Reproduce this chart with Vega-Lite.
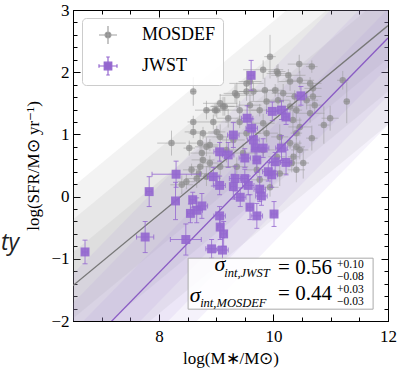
{
  "$schema": "https://vega.github.io/schema/vega-lite/v6.json",
  "width": 315,
  "height": 311,
  "autosize": {"type": "none"},
  "padding": {"left": 73, "top": 10, "right": 12, "bottom": 47},
  "background": "white",
  "config": {
    "view": {"stroke": "#000", "strokeWidth": 1},
    "axis": {"domain": false, "grid": false, "tickColor": "#000", "tickWidth": 1,
      "labelFont": "Liberation Serif", "labelFontSize": 17, "labelColor": "#000",
      "titleFont": "Liberation Serif", "titleFontSize": 17, "titleFontWeight": "normal", "titleColor": "#000",
      "labelOverlap": false, "labelFlush": false}
  },
  "resolve": {"axis": {"x": "independent", "y": "independent"}},
  "datasets": {
    "gbands": [
      {"b": "g3", "x": 6.5, "lo": -3.02, "hi": 0.16}, {"b": "g3", "x": 12, "lo": 1.16, "hi": 4.34},
      {"b": "g2", "x": 6.5, "lo": -2.49, "hi": -0.37}, {"b": "g2", "x": 12, "lo": 1.69, "hi": 3.81},
      {"b": "g1", "x": 6.5, "lo": -1.96, "hi": -0.90}, {"b": "g1", "x": 12, "lo": 2.22, "hi": 3.28}
    ],
    "pbands": [
      {"b": "p3", "x": 6.5, "lo": -4.04, "hi": -1.24}, {"b": "p3", "x": 12, "lo": 1.15, "hi": 3.95},
      {"b": "p2", "x": 6.5, "lo": -3.57, "hi": -1.71}, {"b": "p2", "x": 12, "lo": 1.62, "hi": 3.48},
      {"b": "p1", "x": 6.5, "lo": -3.11, "hi": -2.17}, {"b": "p1", "x": 12, "lo": 2.08, "hi": 3.02}
    ],
    "gline": [{"x": 6.5, "y": -1.43}, {"x": 12, "y": 2.75}],
    "pline": [{"x": 6.5, "y": -2.64}, {"x": 12, "y": 2.55}],
    "mosdef": [
      {"x":8.60,"y":1.69,"xe":0.05,"ye":0.23},{"x":8.60,"y":1.20,"xe":0.1,"ye":0.1},{"x":8.60,"y":1.04,"xe":0.15,"ye":0.1},
      {"x":8.22,"y":0.86,"xe":0.25,"ye":0.2},{"x":8.53,"y":0.78,"xe":0.1,"ye":0.12},{"x":8.70,"y":0.37,"xe":0.15,"ye":0.15},
      {"x":9.01,"y":1.39,"xe":0.2,"ye":0.12},{"x":9.15,"y":1.45,"xe":0.25,"ye":0.15},{"x":9.36,"y":1.63,"xe":0.3,"ye":0.2},
      {"x":9.53,"y":1.69,"xe":0.2,"ye":0.15},{"x":9.82,"y":2.04,"xe":0.35,"ye":0.15},{"x":9.94,"y":2.25,"xe":0.1,"ye":0.35},
      {"x":10.45,"y":2.13,"xe":0.2,"ye":0.15},{"x":10.67,"y":2.09,"xe":0.1,"ye":0.1},{"x":11.21,"y":1.87,"xe":0.1,"ye":0.15},
      {"x":11.28,"y":1.53,"xe":0.05,"ye":0.35},{"x":10.99,"y":1.26,"xe":0.15,"ye":0.2},{"x":10.88,"y":1.15,"xe":0.1,"ye":0.3},
      {"x":10.69,"y":1.61,"xe":0.15,"ye":0.15},{"x":10.64,"y":1.82,"xe":0.2,"ye":0.1},{"x":10.46,"y":1.87,"xe":0.25,"ye":0.15},
      {"x":10.26,"y":1.95,"xe":0.3,"ye":0.1},{"x":10.08,"y":1.98,"xe":0.2,"ye":0.15},{"x":9.59,"y":1.85,"xe":0.2,"ye":0.15},
      {"x":9.07,"y":1.50,"xe":0.3,"ye":0.15},{"x":8.98,"y":1.39,"xe":0.2,"ye":0.1},{"x":8.95,"y":1.20,"xe":0.25,"ye":0.12},
      {"x":10.67,"y":0.94,"xe":0.1,"ye":0.2},{"x":10.40,"y":0.80,"xe":0.15,"ye":0.15},{"x":10.52,"y":0.54,"xe":0.1,"ye":0.25},
      {"x":10.40,"y":0.43,"xe":0.15,"ye":0.2},{"x":10.32,"y":0.54,"xe":0.1,"ye":0.15},{"x":10.06,"y":2.01,"xe":0.15,"ye":0.1},
      {"x":10.29,"y":1.85,"xe":0.2,"ye":0.15},{"x":10.69,"y":1.74,"xe":0.15,"ye":0.1},{"x":9.53,"y":1.82,"xe":0.3,"ye":0.2},
      {"x":9.12,"y":1.45,"xe":0.2,"ye":0.15},{"x":9.65,"y":1.69,"xe":0.25,"ye":0.15},{"x":9.85,"y":1.71,"xe":0.2,"ye":0.2},
      {"x":10.03,"y":1.71,"xe":0.15,"ye":0.1},{"x":10.17,"y":1.66,"xe":0.2,"ye":0.15},{"x":9.88,"y":1.53,"xe":0.3,"ye":0.15},
      {"x":10.08,"y":1.55,"xe":0.2,"ye":0.2},{"x":10.37,"y":1.61,"xe":0.15,"ye":0.1},{"x":10.58,"y":1.55,"xe":0.2,"ye":0.15},
      {"x":10.72,"y":1.47,"xe":0.15,"ye":0.12},{"x":10.64,"y":1.34,"xe":0.25,"ye":0.15},{"x":10.40,"y":1.39,"xe":0.1,"ye":0.2},
      {"x":10.29,"y":1.45,"xe":0.2,"ye":0.1},{"x":9.41,"y":1.39,"xe":0.3,"ye":0.15},{"x":9.59,"y":1.47,"xe":0.2,"ye":0.2},
      {"x":9.76,"y":1.39,"xe":0.15,"ye":0.1},{"x":9.21,"y":1.26,"xe":0.2,"ye":0.15},{"x":9.41,"y":1.20,"xe":0.25,"ye":0.1},
      {"x":9.82,"y":1.18,"xe":0.2,"ye":0.15},{"x":10.34,"y":1.23,"xe":0.15,"ye":0.2},{"x":10.46,"y":1.12,"xe":0.2,"ye":0.15},
      {"x":10.40,"y":1.02,"xe":0.1,"ye":0.1},{"x":9.07,"y":0.96,"xe":0.3,"ye":0.2},{"x":9.30,"y":0.91,"xe":0.2,"ye":0.15},
      {"x":9.53,"y":1.02,"xe":0.25,"ye":0.1},{"x":9.88,"y":1.02,"xe":0.2,"ye":0.15},{"x":10.11,"y":0.96,"xe":0.15,"ye":0.2},
      {"x":10.29,"y":0.86,"xe":0.2,"ye":0.1},{"x":10.46,"y":0.75,"xe":0.15,"ye":0.15},{"x":8.77,"y":1.02,"xe":0.25,"ye":0.1},
      {"x":8.83,"y":0.80,"xe":0.2,"ye":0.15},{"x":9.18,"y":0.75,"xe":0.2,"ye":0.2},{"x":9.47,"y":0.70,"xe":0.25,"ye":0.15},
      {"x":9.82,"y":0.75,"xe":0.2,"ye":0.1},{"x":10.06,"y":0.64,"xe":0.15,"ye":0.15},{"x":8.77,"y":0.59,"xe":0.2,"ye":0.15},
      {"x":9.07,"y":0.48,"xe":0.25,"ye":0.2},{"x":9.36,"y":0.48,"xe":0.2,"ye":0.15},{"x":9.71,"y":0.43,"xe":0.2,"ye":0.1},
      {"x":10.11,"y":0.37,"xe":0.15,"ye":0.2},{"x":8.83,"y":0.32,"xe":0.2,"ye":0.15},{"x":9.76,"y":0.27,"xe":0.15,"ye":0.15},
      {"x":8.83,"y":1.39,"xe":0.2,"ye":0.15},{"x":9.01,"y":1.04,"xe":0.15,"ye":0.1},{"x":8.72,"y":0.86,"xe":0.2,"ye":0.15},
      {"x":8.89,"y":0.83,"xe":0.15,"ye":0.1},{"x":8.75,"y":0.70,"xe":0.2,"ye":0.15},{"x":8.89,"y":0.54,"xe":0.15,"ye":0.12},
      {"x":8.72,"y":0.48,"xe":0.2,"ye":0.15},{"x":8.57,"y":0.43,"xe":0.15,"ye":0.1},{"x":8.66,"y":0.29,"xe":0.2,"ye":0.15},
      {"x":8.48,"y":0.24,"xe":0.15,"ye":0.12},{"x":8.40,"y":0.19,"xe":0.2,"ye":0.15},{"x":9.33,"y":1.66,"xe":0.2,"ye":0.15},
      {"x":9.94,"y":0.15,"xe":0.15,"ye":0.15},{"x":10.35,"y":0.64,"xe":0.1,"ye":0.15}
    ],
    "jwst": [
      {"x":6.71,"y":-0.89,"xe":0.05,"ye":0.19},{"x":7.83,"y":0.08,"xe":0.05,"ye":0.24},{"x":7.76,"y":-0.65,"xe":0.15,"ye":0.25},
      {"x":8.30,"y":0.36,"xe":0.42,"ye":0.21},{"x":8.29,"y":-0.07,"xe":0.05,"ye":0.30},{"x":8.47,"y":-0.69,"xe":0.27,"ye":0.25},
      {"x":8.59,"y":-0.05,"xe":0.05,"ye":0.12},{"x":8.55,"y":-0.27,"xe":0.05,"ye":0.15},{"x":8.66,"y":-0.22,"xe":0.1,"ye":0.2},
      {"x":9.61,"y":1.95,"xe":0.05,"ye":0.24},{"x":10.48,"y":1.62,"xe":0.1,"ye":0.15},{"x":9.98,"y":1.37,"xe":0.1,"ye":0.15},
      {"x":10.14,"y":1.39,"xe":0.1,"ye":0.15},{"x":10.22,"y":1.28,"xe":0.05,"ye":0.12},{"x":9.54,"y":1.26,"xe":0.1,"ye":0.2},
      {"x":9.62,"y":1.10,"xe":0.1,"ye":0.15},{"x":9.30,"y":0.99,"xe":0.1,"ye":0.2},{"x":9.65,"y":0.91,"xe":0.1,"ye":0.15},
      {"x":9.68,"y":0.78,"xe":0.05,"ye":0.2},{"x":9.82,"y":0.78,"xe":0.1,"ye":0.15},{"x":10.14,"y":0.78,"xe":0.1,"ye":0.2},
      {"x":9.06,"y":0.72,"xe":0.1,"ye":0.15},{"x":9.21,"y":0.67,"xe":0.1,"ye":0.2},{"x":9.50,"y":0.62,"xe":0.1,"ye":0.15},
      {"x":9.71,"y":0.59,"xe":0.05,"ye":0.2},{"x":10.03,"y":0.56,"xe":0.1,"ye":0.15},{"x":10.22,"y":0.55,"xe":0.1,"ye":0.2},
      {"x":8.95,"y":0.32,"xe":0.1,"ye":0.15},{"x":9.33,"y":0.29,"xe":0.1,"ye":0.2},{"x":9.50,"y":0.29,"xe":0.05,"ye":0.15},
      {"x":9.91,"y":0.40,"xe":0.1,"ye":0.15},{"x":9.97,"y":0.35,"xe":0.1,"ye":0.2},{"x":9.06,"y":0.18,"xe":0.1,"ye":0.15},
      {"x":9.30,"y":0.16,"xe":0.05,"ye":0.2},{"x":9.56,"y":0.18,"xe":0.1,"ye":0.15},{"x":9.76,"y":0.12,"xe":0.1,"ye":0.2},
      {"x":9.79,"y":0.01,"xe":0.1,"ye":0.15},{"x":8.75,"y":-0.15,"xe":0.1,"ye":0.2},{"x":9.42,"y":-0.01,"xe":0.1,"ye":0.15},
      {"x":9.59,"y":-0.17,"xe":0.05,"ye":0.2},{"x":9.71,"y":-0.31,"xe":0.1,"ye":0.2},{"x":10.01,"y":-0.28,"xe":0.05,"ye":0.2},
      {"x":9.06,"y":-0.31,"xe":0.1,"ye":0.15},{"x":9.07,"y":-0.49,"xe":0.05,"ye":0.2},{"x":9.13,"y":-0.60,"xe":0.05,"ye":0.2},
      {"x":8.92,"y":-0.84,"xe":0.1,"ye":0.15},{"x":9.11,"y":-0.86,"xe":0.1,"ye":0.2}
    ]
  },
  "layer": [
    {
      "data": {"name": "gbands"},
      "mark": {"type": "area", "color": "#888888", "opacity": 0.1, "clip": true},
      "encoding": {
        "x": {"field": "x", "type": "quantitative", "scale": {"domain": [6.5, 12], "nice": false, "zero": false},
          "axis": {"orient": "bottom", "values": [8, 10, 12], "format": "d", "tickSize": -7, "labelPadding": 14, "labelFont": "Liberation Serif", "title": "log(M∗/M⊙)", "titlePadding": 6}},
        "y": {"field": "lo", "type": "quantitative", "scale": {"domain": [-2, 3], "nice": false, "zero": false},
          "axis": {"orient": "left", "values": [-2, -1, 0, 1, 2, 3], "format": "d", "tickSize": -7, "labelPadding": 11, "labelFont": "Liberation Serif", "title": "log(SFR/M⊙ yr⁻¹)", "titlePadding": 8}},
        "y2": {"field": "hi"},
        "detail": {"field": "b"}
      }
    },
    {
      "data": {"name": "pbands"},
      "mark": {"type": "area", "color": "#9b7fd4", "opacity": 0.1, "clip": true},
      "encoding": {
        "x": {"field": "x", "type": "quantitative",
          "axis": {"orient": "bottom", "values": [6.5, 7, 7.5, 8, 8.5, 9, 9.5, 10, 10.5, 11, 11.5, 12], "tickSize": -4, "labels": false, "title": null}},
        "y": {"field": "lo", "type": "quantitative",
          "axis": {"orient": "left", "values": [-2, -1.8, -1.6, -1.4, -1.2, -1, -0.8, -0.6, -0.4, -0.2, 0, 0.2, 0.4, 0.6, 0.8, 1, 1.2, 1.4, 1.6, 1.8, 2, 2.2, 2.4, 2.6, 2.8, 3], "tickSize": -4, "labels": false, "title": null}},
        "y2": {"field": "hi"},
        "detail": {"field": "b"}
      }
    },
    {
      "data": {"name": "mosdef"},
      "mark": {"type": "errorbar", "color": "#999999", "opacity": 0.55, "thickness": 1},
      "encoding": {
        "x": {"field": "x", "type": "quantitative", "axis": null},
        "xError": {"field": "xe"},
        "y": {"field": "y", "type": "quantitative", "axis": null}
      }
    },
    {
      "data": {"name": "mosdef"},
      "mark": {"type": "errorbar", "color": "#999999", "opacity": 0.55, "thickness": 1},
      "encoding": {
        "x": {"field": "x", "type": "quantitative", "axis": null},
        "y": {"field": "y", "type": "quantitative", "axis": null},
        "yError": {"field": "ye"}
      }
    },
    {
      "data": {"name": "mosdef"},
      "mark": {"type": "point", "filled": true, "shape": "circle", "size": 42, "opacity": 0.7},
      "encoding": {
        "x": {"field": "x", "type": "quantitative", "axis": null},
        "y": {"field": "y", "type": "quantitative", "axis": null},
        "color": {"datum": "MOSDEF", "type": "nominal",
          "scale": {"domain": ["MOSDEF", "JWST"], "range": ["#8a8a8a", "#9467cf"]},
          "legend": {"title": null, "orient": "none", "legendX": 9, "legendY": 8, "padding": 7,
            "symbolOffset": 9, "labelOffset": 24, "rowPadding": 7, "strokeColor": "#cccccc", "fillColor": "rgba(255,255,255,0.85)",
            "cornerRadius": 4, "labelFont": "Liberation Serif", "labelFontSize": 18, "labelColor": "#000",
            "symbolSize": 324, "symbolStrokeWidth": 1.2,
            "encoding": {"symbols": {
              "shape": {"value": {"expr": "datum.value === 'MOSDEF' ? 'M-1,0L1,0M0,-1L0,1M0.33,0A0.33,0.33,0,1,1,-0.33,0A0.33,0.33,0,1,1,0.33,0Z' : 'M-1,0L1,0M0,-1L0,1M-1,-0.2L-1,0.2M1,-0.2L1,0.2M-0.2,-1L0.2,-1M-0.2,1L0.2,1M-0.42,-0.42L0.42,-0.42L0.42,0.42L-0.42,0.42Z'"}},
              "stroke": {"value": {"expr": "datum.value === 'MOSDEF' ? '#a0a0a0' : '#9467cf'"}},
              "fill": {"value": {"expr": "datum.value === 'MOSDEF' ? '#a0a0a0' : '#9467cf'"}},
              "strokeWidth": {"value": 1.2},
              "opacity": {"value": 1}
            }}
          }}
      }
    },
    {
      "data": {"name": "gline"},
      "mark": {"type": "line", "color": "#777777", "strokeWidth": 1.3, "clip": true},
      "encoding": {
        "x": {"field": "x", "type": "quantitative",
          "axis": {"orient": "top", "values": [8, 10, 12], "tickSize": -7, "labels": false, "title": null}},
        "y": {"field": "y", "type": "quantitative",
          "axis": {"orient": "right", "values": [-2, -1, 0, 1, 2, 3], "tickSize": -7, "labels": false, "title": null}}
      }
    },
    {
      "data": {"name": "pline"},
      "mark": {"type": "line", "color": "#8a5cc4", "strokeWidth": 1.3, "clip": true},
      "encoding": {
        "x": {"field": "x", "type": "quantitative",
          "axis": {"orient": "top", "values": [6.5, 7, 7.5, 8, 8.5, 9, 9.5, 10, 10.5, 11, 11.5, 12], "tickSize": -4, "labels": false, "title": null}},
        "y": {"field": "y", "type": "quantitative",
          "axis": {"orient": "right", "values": [-2, -1.8, -1.6, -1.4, -1.2, -1, -0.8, -0.6, -0.4, -0.2, 0, 0.2, 0.4, 0.6, 0.8, 1, 1.2, 1.4, 1.6, 1.8, 2, 2.2, 2.4, 2.6, 2.8, 3], "tickSize": -4, "labels": false, "title": null}}
      }
    },
    {
      "data": {"name": "jwst"},
      "mark": {"type": "errorbar", "color": "#9467cf", "opacity": 0.8, "thickness": 1, "ticks": {"size": 5}},
      "encoding": {
        "x": {"field": "x", "type": "quantitative", "axis": null},
        "xError": {"field": "xe"},
        "y": {"field": "y", "type": "quantitative", "axis": null}
      }
    },
    {
      "data": {"name": "jwst"},
      "mark": {"type": "errorbar", "color": "#9467cf", "opacity": 0.8, "thickness": 1, "ticks": {"size": 5}},
      "encoding": {
        "x": {"field": "x", "type": "quantitative", "axis": null},
        "y": {"field": "y", "type": "quantitative", "axis": null},
        "yError": {"field": "ye"}
      }
    },
    {
      "data": {"name": "jwst"},
      "mark": {"type": "point", "filled": true, "shape": "square", "size": 80, "opacity": 0.9},
      "encoding": {
        "x": {"field": "x", "type": "quantitative", "axis": null},
        "y": {"field": "y", "type": "quantitative", "axis": null},
        "color": {"datum": "JWST", "type": "nominal"}
      }
    },
    {
      "data": {"values": [{}]},
      "mark": {"type": "rect", "fill": "white", "fillOpacity": 0.85, "stroke": "#aaaaaa", "strokeWidth": 1},
      "encoding": {
        "x": {"datum": 8.51, "type": "quantitative", "axis": null},
        "x2": {"datum": 11.74},
        "y": {"datum": -0.99, "type": "quantitative", "axis": null},
        "y2": {"datum": -1.81}
      }
    },
    {
      "data": {"values": [{}]},
      "mark": {"type": "text", "text": "σ", "font": "Liberation Serif", "fontStyle": "italic", "fontSize": 22, "align": "left", "baseline": "alphabetic", "color": "#000"},
      "encoding": {"x": {"datum": 8.97, "type": "quantitative", "axis": null}, "y": {"datum": -1.2, "type": "quantitative", "axis": null}}
    },
    {
      "data": {"values": [{}]},
      "mark": {"type": "text", "text": "int,JWST", "font": "Liberation Serif", "fontStyle": "italic", "fontSize": 12.5, "align": "left", "baseline": "alphabetic", "color": "#000"},
      "encoding": {"x": {"datum": 9.14, "type": "quantitative", "axis": null}, "y": {"datum": -1.29, "type": "quantitative", "axis": null}}
    },
    {
      "data": {"values": [{}]},
      "mark": {"type": "text", "text": "= 0.56", "font": "Liberation Serif", "fontSize": 21, "align": "left", "baseline": "alphabetic", "color": "#000"},
      "encoding": {"x": {"datum": 10.08, "type": "quantitative", "axis": null}, "y": {"datum": -1.24, "type": "quantitative", "axis": null}}
    },
    {
      "data": {"values": [{}]},
      "mark": {"type": "text", "text": "+0.10", "font": "Liberation Serif", "fontSize": 11.5, "align": "left", "baseline": "alphabetic", "color": "#000"},
      "encoding": {"x": {"datum": 11.11, "type": "quantitative", "axis": null}, "y": {"datum": -1.148, "type": "quantitative", "axis": null}}
    },
    {
      "data": {"values": [{}]},
      "mark": {"type": "text", "text": "−0.08", "font": "Liberation Serif", "fontSize": 11.5, "align": "left", "baseline": "alphabetic", "color": "#000"},
      "encoding": {"x": {"datum": 11.11, "type": "quantitative", "axis": null}, "y": {"datum": -1.341, "type": "quantitative", "axis": null}}
    },
    {
      "data": {"values": [{}]},
      "mark": {"type": "text", "text": "σ", "font": "Liberation Serif", "fontStyle": "italic", "fontSize": 22, "align": "left", "baseline": "alphabetic", "color": "#000"},
      "encoding": {"x": {"datum": 8.54, "type": "quantitative", "axis": null}, "y": {"datum": -1.69, "type": "quantitative", "axis": null}}
    },
    {
      "data": {"values": [{}]},
      "mark": {"type": "text", "text": "int,MOSDEF", "font": "Liberation Serif", "fontStyle": "italic", "fontSize": 12.5, "align": "left", "baseline": "alphabetic", "color": "#000"},
      "encoding": {"x": {"datum": 8.72, "type": "quantitative", "axis": null}, "y": {"datum": -1.77, "type": "quantitative", "axis": null}}
    },
    {
      "data": {"values": [{}]},
      "mark": {"type": "text", "text": "= 0.44", "font": "Liberation Serif", "fontSize": 21, "align": "left", "baseline": "alphabetic", "color": "#000"},
      "encoding": {"x": {"datum": 10.08, "type": "quantitative", "axis": null}, "y": {"datum": -1.66, "type": "quantitative", "axis": null}}
    },
    {
      "data": {"values": [{}]},
      "mark": {"type": "text", "text": "+0.03", "font": "Liberation Serif", "fontSize": 11.5, "align": "left", "baseline": "alphabetic", "color": "#000"},
      "encoding": {"x": {"datum": 11.11, "type": "quantitative", "axis": null}, "y": {"datum": -1.55, "type": "quantitative", "axis": null}}
    },
    {
      "data": {"values": [{}]},
      "mark": {"type": "text", "text": "−0.03", "font": "Liberation Serif", "fontSize": 11.5, "align": "left", "baseline": "alphabetic", "color": "#000"},
      "encoding": {"x": {"datum": 11.11, "type": "quantitative", "axis": null}, "y": {"datum": -1.743, "type": "quantitative", "axis": null}}
    },
    {
      "data": {"values": [{}]},
      "mark": {"type": "text", "text": "ty", "font": "Open Sans", "fontStyle": "italic", "fontSize": 23, "align": "left", "baseline": "alphabetic", "color": "#222"},
      "encoding": {"x": {"datum": 5.243, "type": "quantitative", "axis": null}, "y": {"datum": -0.86, "type": "quantitative", "axis": null}}
    }
  ]
}
